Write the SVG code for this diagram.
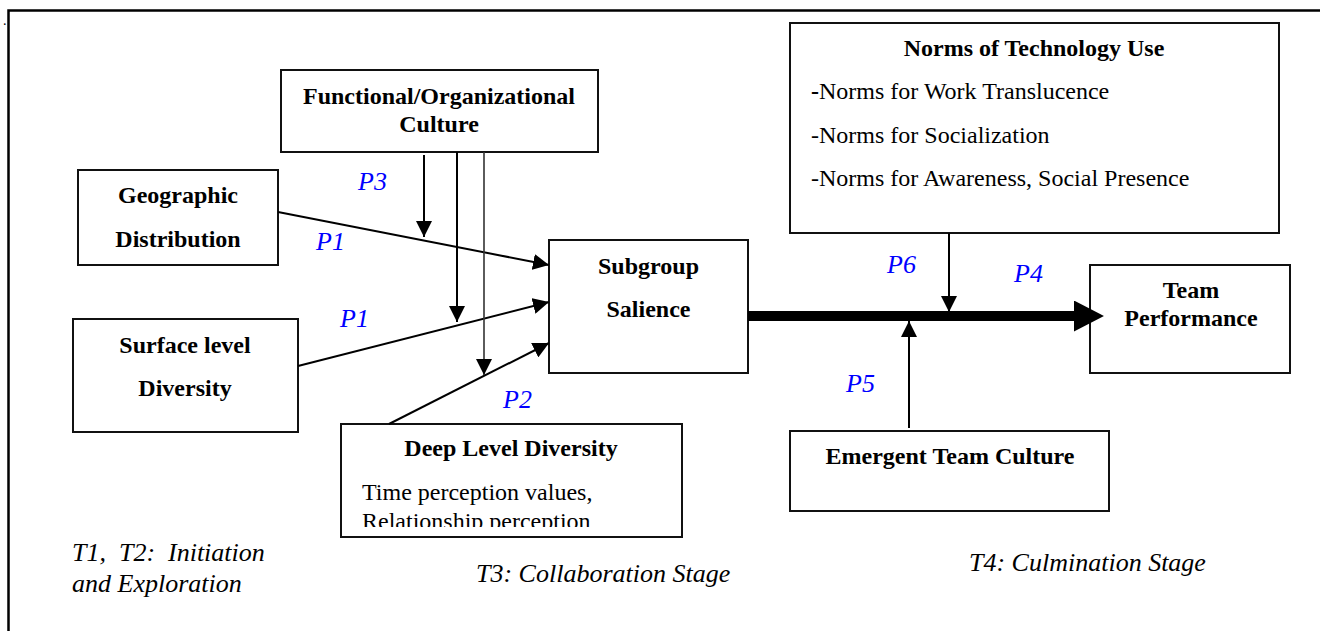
<svg xmlns="http://www.w3.org/2000/svg" width="1320" height="631" viewBox="0 0 1320 631">
<style>
.box{fill:#fff;stroke:#111;stroke-width:2}
.b{font-family:"Liberation Serif","Times New Roman",serif;font-weight:bold;font-size:24px;fill:#000;text-anchor:middle}
.r{font-family:"Liberation Serif","Times New Roman",serif;font-size:24px;fill:#000}
.i{font-family:"Liberation Serif","Times New Roman",serif;font-style:italic;font-size:26px;fill:#000}
.p{font-family:"Liberation Serif","Times New Roman",serif;font-style:italic;font-size:26px;fill:#0000FF}
.c{stroke:#000;stroke-width:2;fill:none;marker-end:url(#ah)}
</style>
<defs>
<marker id="ah" markerUnits="userSpaceOnUse" markerWidth="16" markerHeight="16" viewBox="0 0 15 15" refX="15" refY="7.5" orient="auto">
<path d="M0,0 L15,7.5 L0,15 z" fill="#000"/>
</marker>
<marker id="big" markerUnits="userSpaceOnUse" markerWidth="30" markerHeight="31" viewBox="0 0 29 30" refX="0" refY="15" orient="auto">
<path d="M0,0 L29,15 L0,30 z" fill="#000"/>
</marker>
<clipPath id="deepclip"><rect x="341" y="425" width="340" height="102"/></clipPath>
</defs>
<rect width="1320" height="631" fill="#fff"/>
<path d="M8.5,631 V10.5 H1320" fill="none" stroke="#000" stroke-width="2.5"/>
<text x="3" y="25" class="r" font-size="14px" style="font-size:14px">.</text>

<g id="functional">
<rect class="box" x="281" y="70" width="317" height="82"/>
<text class="b" x="439" y="104">Functional/Organizational</text>
<text class="b" x="439" y="132">Culture</text>
</g>
<g id="geographic">
<rect class="box" x="78" y="170" width="200" height="95"/>
<text class="b" x="178" y="203">Geographic</text>
<text class="b" x="178" y="247">Distribution</text>
</g>
<g id="surface">
<rect class="box" x="73" y="319" width="225" height="113"/>
<text class="b" x="185" y="353">Surface level</text>
<text class="b" x="185" y="396">Diversity</text>
</g>
<g id="subgroup">
<rect class="box" x="549" y="240" width="199" height="133"/>
<text class="b" x="648.5" y="274">Subgroup</text>
<text class="b" x="648.5" y="317">Salience</text>
</g>
<g id="deep">
<rect class="box" x="341" y="424" width="341" height="113"/>
<text class="b" x="511" y="456">Deep Level Diversity</text>
<g clip-path="url(#deepclip)">
<text class="r" x="362" y="500">Time perception values,</text>
<text class="r" x="362" y="529">Relationship perception</text>
</g>
</g>
<g id="norms">
<rect class="box" x="790" y="23" width="489" height="210"/>
<text class="b" x="1034" y="56">Norms of Technology Use</text>
<text class="r" x="811" y="99"><tspan font-weight="bold">-</tspan>Norms for Work Translucence</text>
<text class="r" x="811" y="143">-Norms for Socialization</text>
<text class="r" x="811" y="186">-Norms for Awareness, Social Presence</text>
</g>
<g id="team">
<rect class="box" x="1090" y="265" width="200" height="108"/>
<text class="b" x="1191" y="298">Team</text>
<text class="b" x="1191" y="326">Performance</text>
</g>
<g id="emergent">
<rect class="box" x="790" y="431" width="319" height="80"/>
<text class="b" x="950" y="464">Emergent Team Culture</text>
</g>

<g id="connectors">
<line class="c" x1="278" y1="212" x2="549" y2="265"/>
<line class="c" x1="298" y1="366" x2="549" y2="302"/>
<line class="c" x1="389" y1="424" x2="549" y2="343"/>
<line class="c" x1="424" y1="155" x2="424" y2="237"/>
<line class="c" x1="457" y1="152" x2="457" y2="322"/>
<line class="c" x1="484" y1="152" x2="484" y2="375" style="stroke:#333;stroke-width:1.6"/>
<line x1="748" y1="316" x2="1074" y2="316" stroke="#000" stroke-width="10" marker-end="url(#big)"/>
<line class="c" x1="949" y1="233" x2="949" y2="312"/>
<line class="c" x1="909" y1="428" x2="909" y2="321"/>
</g>

<g id="labels">
<text class="p" x="358" y="190">P3</text>
<text class="p" x="316" y="250">P1</text>
<text class="p" x="340" y="327">P1</text>
<text class="p" x="503" y="408">P2</text>
<text class="p" x="887" y="273">P6</text>
<text class="p" x="1014" y="282">P4</text>
<text class="p" x="846" y="392">P5</text>
<text class="i" y="561"><tspan x="72">T1,</tspan><tspan x="119">T2:</tspan><tspan x="168">Initiation</tspan></text>
<text class="i" x="72" y="592">and Exploration</text>
<text class="i" x="476" y="582">T3: Collaboration Stage</text>
<text class="i" x="969" y="571">T4: Culmination Stage</text>
</g>
</svg>
